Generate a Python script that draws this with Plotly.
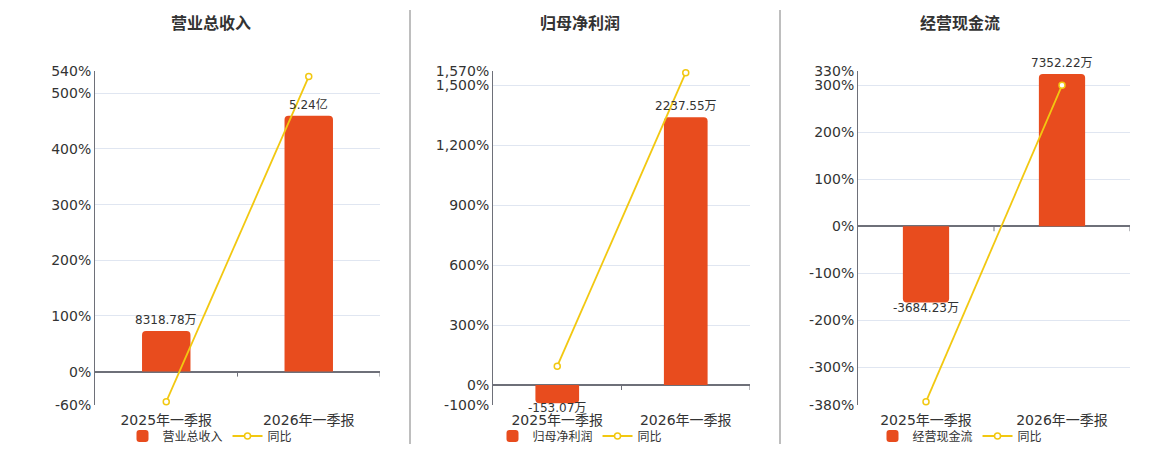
import plotly.graph_objects as go

# ---------------- data ----------------
categories = ["2025年一季报", "2026年一季报"]

titles = ["营业总收入", "归母净利润", "经营现金流"]

revenue_wan = [8318.78, 52400.0]        # 营业总收入 (万元)
revenue_yoy = [-54.0, 529.9]            # 同比 %

netprofit_wan = [-153.07, 2237.55]      # 归母净利润 (万元)
netprofit_yoy = [94.0, 1561.8]

cashflow_wan = [-3684.23, 7352.22]      # 经营现金流 (万元)
cashflow_yoy = [-373.0, 299.6]

pct_ticks_1 = [-60, 0, 100, 200, 300, 400, 500, 540]
pct_ticks_2 = [-100, 0, 300, 600, 900, 1200, 1500, 1570]
pct_ticks_3 = [-380, -300, -200, -100, 0, 100, 200, 300, 330]

bar_values = [revenue_wan, netprofit_wan, cashflow_wan]
yoy_values = [revenue_yoy, netprofit_yoy, cashflow_yoy]
pct_ticks = [pct_ticks_1, pct_ticks_2, pct_ticks_3]


def fmt_amount(v):
    if abs(v) >= 10000:
        return f"{v / 10000:.2f}亿"
    return f"{v:.2f}万"


# ---------------- layout / style ----------------
W, H = 1160, 450
BAR_COLOR = "#E84C1E"
LINE_COLOR = "#F2C811"
AXIS_COLOR = "#6E7079"
GRID_COLOR = "#E0E6F1"
TEXT_COLOR = "#333333"
FONT = "DejaVu Sans, Noto Sans CJK SC, sans-serif"

panel_px = [(95, 380), (493, 750), (858, 1130)]
title_cx = [211, 580, 960]
legend_cx = [210, 580, 960]
plot_top, plot_bot = 71, 405
# value (万) per percent unit on the hidden bar axis, so both zeros align
bar_scale = [114.0, 1.672, 22.7]


def px_x(p):
    return p / W


def px_y(p):
    return 1 - p / H


fig = go.Figure()
layout = dict(
    width=W, height=H,
    margin=dict(l=0, r=0, t=0, b=0, autoexpand=False),
    paper_bgcolor="white", plot_bgcolor="white",
    font=dict(family=FONT, color=TEXT_COLOR, size=12),
    showlegend=True,
    annotations=[], shapes=[],
)

for i in range(3):
    n = i + 1
    xa = "x" if n == 1 else f"x{n}"
    ya_bar = "y" if n == 1 else f"y{n}"
    ya_pct = f"y{n + 3}"
    leg = "legend" if n == 1 else f"legend{n}"
    ticks = pct_ticks[i]
    lo, hi = ticks[0], ticks[-1]

    fig.add_trace(go.Bar(
        x=categories, y=bar_values[i], name=titles[i],
        xaxis=xa, yaxis=ya_bar, legend=leg,
        marker=dict(color=BAR_COLOR, cornerradius=4, line=dict(width=0)),
        width=0.34,
        hoverinfo="skip",
    ))
    fig.add_trace(go.Scatter(
        x=categories, y=yoy_values[i], name="同比",
        xaxis=xa, yaxis=ya_pct, legend=leg,
        mode="lines+markers",
        line=dict(color=LINE_COLOR, width=1.8),
        marker=dict(symbol="circle", size=6, color="white",
                    line=dict(color=LINE_COLOR, width=1.5)),
        cliponaxis=False,
        hoverinfo="skip",
    ))

    # value labels at the bar ends
    for cat, v in zip(categories, bar_values[i]):
        layout["annotations"].append(dict(
            text=fmt_amount(v), xref=xa, yref=ya_bar, x=cat, y=v,
            xanchor="center", yanchor="bottom" if v >= 0 else "top",
            yshift=2 if v >= 0 else 4, showarrow=False,
            font=dict(size=12, color=TEXT_COLOR),
        ))

    dom_x = [px_x(panel_px[i][0]), px_x(panel_px[i][1])]
    dom_y = [px_y(plot_bot), px_y(plot_top)]

    layout["xaxis" if n == 1 else f"xaxis{n}"] = dict(
        domain=dom_x, anchor=ya_bar, type="category",
        range=[-0.5, 1.5], showgrid=False, showline=False, zeroline=False,
        ticks="", tickfont=dict(size=14, color=TEXT_COLOR),
        ticklabelstandoff=5,
        automargin=False, fixedrange=True,
    )
    layout["yaxis" if n == 1 else f"yaxis{n}"] = dict(
        domain=dom_y, anchor=xa, visible=False,
        range=[lo * bar_scale[i], hi * bar_scale[i]],
        showgrid=False, zeroline=False, fixedrange=True,
    )
    layout[f"yaxis{n + 3}"] = dict(
        overlaying=ya_bar, anchor=xa, side="left",
        range=[lo, hi],
        tickmode="array", tickvals=ticks,
        ticktext=[f"{t:,}%" for t in ticks],
        tickfont=dict(size=14, color=TEXT_COLOR),
        showgrid=True, gridcolor=GRID_COLOR, gridwidth=1,
        zeroline=True, zerolinecolor=AXIS_COLOR, zerolinewidth=1.5,
        showline=True, linecolor=AXIS_COLOR, linewidth=1,
        ticks="", automargin=False, fixedrange=True,
    )
    layout[leg] = dict(
        orientation="h", x=px_x(legend_cx[i]), xanchor="center",
        y=px_y(436), yanchor="middle",
        font=dict(size=12, color=TEXT_COLOR),
        bgcolor="rgba(0,0,0,0)", itemwidth=30,
    )
    layout["annotations"].append(dict(
        text=f"<b>{titles[i]}</b>", xref="paper", yref="paper",
        x=px_x(title_cx[i]), y=px_y(23), xanchor="center", yanchor="middle",
        showarrow=False, font=dict(size=16, color=TEXT_COLOR),
    ))
    # small tick marks on the zero axis at category boundaries
    for bx in (0.5, 1.5):
        layout["shapes"].append(dict(
            type="line", xref=xa, yref=ya_pct,
            x0=bx, x1=bx, ysizemode="pixel", yanchor=0, y0=0, y1=-5,
            line=dict(color=AXIS_COLOR, width=1),
        ))

# vertical panel dividers
for dx in (410, 780):
    layout["shapes"].append(dict(
        type="line", xref="paper", yref="paper",
        x0=px_x(dx), x1=px_x(dx), y0=px_y(10), y1=px_y(444),
        line=dict(color="#A8A8A8", width=1.5),
    ))

fig.update_layout(**layout)
fig.write_html("out.html",
               config={"displayModeBar": False},
               post_script="document.body.style.margin='0px';")
